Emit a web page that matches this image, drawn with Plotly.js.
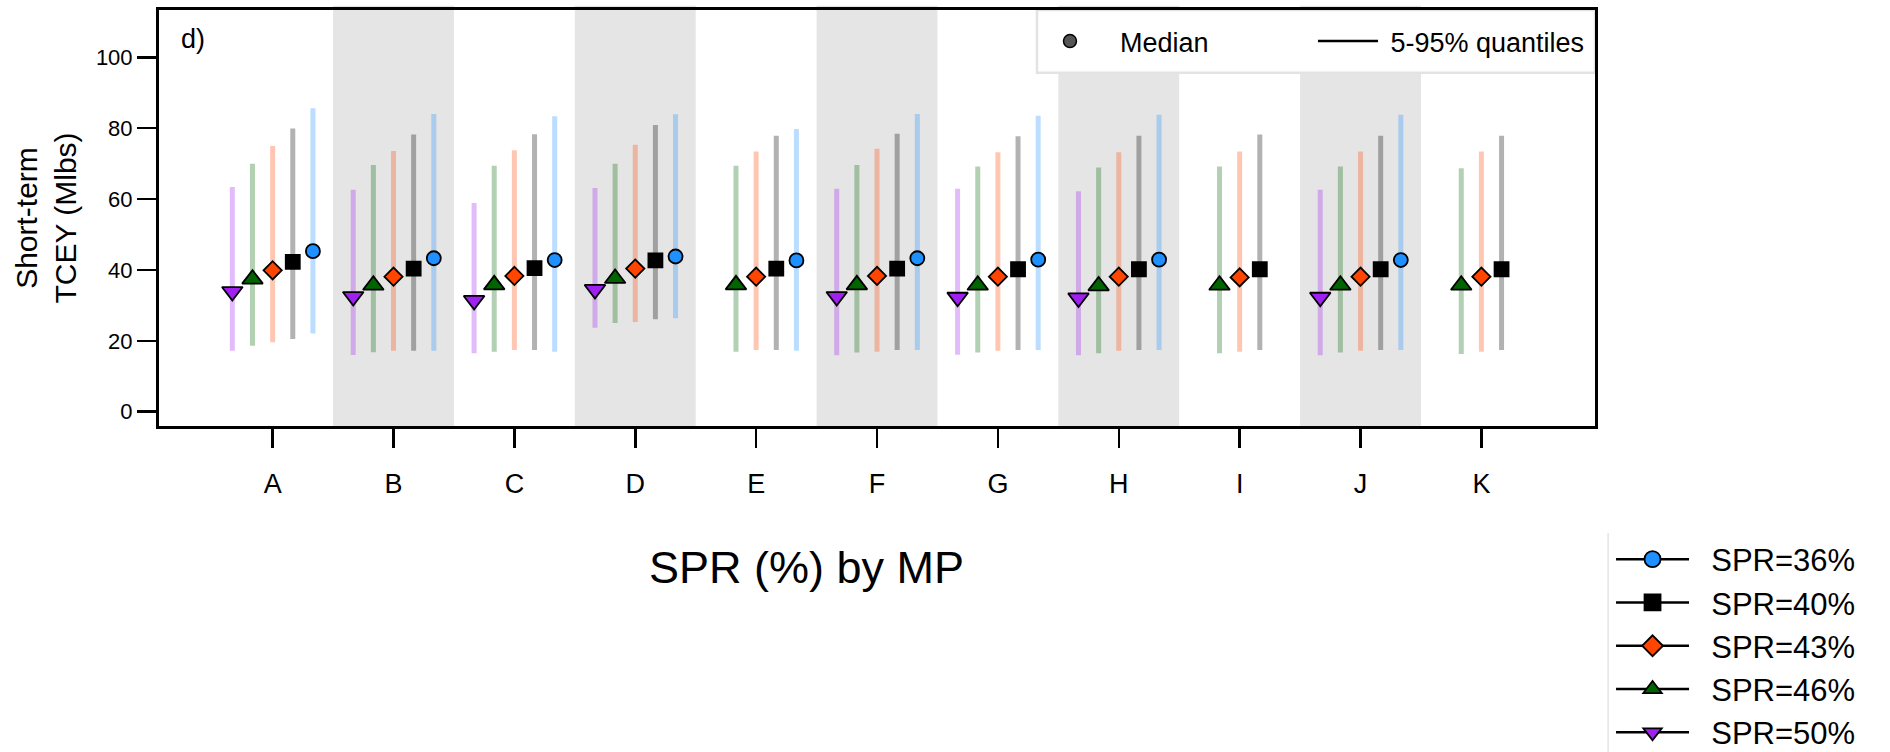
<!DOCTYPE html>
<html>
<head>
<meta charset="utf-8">
<script src="https://cdn.plot.ly/plotly-3.0.1.min.js"></script>
<style>html,body{margin:0;padding:0;background:#fff;}#chart{width:1890px;height:752px;}</style>
</head>
<body>
<div id="chart"></div>
<script>
// ---- data ----
const categories = ['A','B','C','D','E','F','G','H','I','J','K'];
const seriesNames = ['SPR=36%','SPR=40%','SPR=43%','SPR=46%','SPR=50%'];

const med36 = [45.3, 43.3, 42.8, 43.8, 42.7, 43.3, 42.9, 42.9, null, 42.8, null];
const lo36  = [22.1, 17.2, 16.9, 26.4, 17.2, 17.4, 17.4, 17.4, null, 17.4, null];
const hi36  = [85.6, 84.0, 83.4, 83.9, 79.8, 84.0, 83.5, 83.8, null, 83.8, null];

const med40 = [42.3, 40.4, 40.5, 42.7, 40.4, 40.4, 40.2, 40.2, 40.2, 40.2, 40.2];
const lo40  = [20.5, 17.2, 17.4, 26.1, 17.4, 17.4, 17.4, 17.4, 17.4, 17.4, 17.4];
const hi40  = [79.9, 78.2, 78.3, 80.9, 77.9, 78.4, 77.7, 77.9, 78.2, 77.9, 77.9];

const med43 = [39.9, 38.1, 38.3, 40.4, 38.1, 38.3, 38.1, 38.1, 37.9, 38.1, 38.1];
const lo43  = [19.6, 17.2, 17.4, 25.3, 17.4, 16.9, 17.2, 17.2, 16.9, 17.2, 16.9];
const hi43  = [75.0, 73.6, 73.8, 75.3, 73.4, 74.2, 73.2, 73.2, 73.4, 73.4, 73.4];

const med46 = [37.4, 35.7, 35.8, 37.6, 35.8, 35.8, 35.7, 35.5, 35.7, 35.7, 35.7];
const lo46  = [18.6, 16.8, 16.9, 25.0, 16.9, 16.7, 16.7, 16.5, 16.5, 16.7, 16.3];
const hi46  = [70.0, 69.6, 69.4, 70.0, 69.4, 69.6, 69.2, 68.9, 69.2, 69.2, 68.7];

const med50 = [33.9, 32.5, 31.4, 34.5, null, 32.5, 32.3, 32.1, null, 32.3, null];
const lo50  = [17.2, 16.0, 16.5, 23.7, null, 15.9, 16.1, 15.9, null, 15.9, null];
const hi50  = [63.4, 62.6, 58.9, 63.1, null, 62.9, 62.9, 62.2, null, 62.6, null];

const yTicks = [0, 20, 40, 60, 80, 100];

// ---- styles ----
const FONT = 'Liberation Sans, Arial, Helvetica, sans-serif';
const NB = '\u00A0';
const styles = [
  {sym:'circle',        size:14, color:'#1E90FF', bar:'rgba(30,144,255,0.30)', off: 2},
  {sym:'square',        size:14, color:'#000000', bar:'rgba(0,0,0,0.30)',      off: 1},
  {sym:'diamond',       size:14, color:'#FF4500', bar:'rgba(255,69,0,0.30)',   off: 0},
  {sym:'triangle-up',   size:18, color:'#006400', bar:'rgba(0,100,0,0.30)',    off:-1},
  {sym:'triangle-down', size:18, color:'#A020F0', bar:'rgba(160,32,240,0.30)', off:-2}
];
const meds = [med36, med40, med43, med46, med50];
const los  = [lo36, lo40, lo43, lo46, lo50];
const his  = [hi36, hi40, hi43, hi46, hi50];
const step = 1/6;

const traces = [];
for (let s = 4; s >= 0; s--) {
  const st = styles[s];
  const x = categories.map((c, i) => i + 1 + st.off * step);
  const plus  = meds[s].map((m, i) => m == null ? null : his[s][i] - m);
  const minus = meds[s].map((m, i) => m == null ? null : m - los[s][i]);
  traces.push({
    type:'scatter', mode:'markers', name: seriesNames[s], showlegend:false,
    x: x, y: meds[s],
    marker:{symbol: st.sym, size: st.size, color: st.color, line:{color:'#000', width:1.8}},
    error_y:{type:'data', symmetric:false, array: plus, arrayminus: minus,
             color: st.bar, thickness: 5, width: 0},
    hoverinfo:'skip'
  });
}
// legend entries (bottom-right)
for (let s = 0; s < 5; s++) {
  const st = styles[s];
  traces.push({
    type:'scatter', mode:'lines+markers', name: NB + NB + seriesNames[s], legend:'legend',
    x:[null], y:[null],
    line:{color:'#000', width:2.5},
    marker:{symbol: st.sym, size: st.size + 2, color: st.color, line:{color:'#000', width:1.8}}
  });
}
// legend entries (top box)
traces.push({type:'scatter', mode:'markers', name: NB + NB + 'Median', legend:'legend2', x:[null], y:[null],
  marker:{symbol:'circle', size:13, color:'#555555', line:{color:'#000', width:1.5}}});
traces.push({type:'scatter', mode:'lines', name: NB + '5-95% quantiles', legend:'legend2', x:[null], y:[null],
  line:{color:'#000', width:2.5}});

// shaded bands behind alternate categories
const shapes = categories.map((c, i) => i).filter(i => i % 2 === 1).map(i => ({
  type:'rect', layer:'below', xref:'x', yref:'paper',
  x0: i + 0.5, x1: i + 1.5, y0: 0, y1: 1.01,
  fillcolor:'#e5e5e5', line:{width:0}
}));
// white box behind the top legend
shapes.push({type:'rect', layer:'below', xref:'paper', yref:'paper', x0:0.6114, x1:1.0, y0:0.8493, y1:1.0,
  fillcolor:'#ffffff', line:{color:'#e3e3e3', width:2.5}});
// left rule of the SPR legend
shapes.push({type:'line', xref:'paper', yref:'paper', x0:1.0091, x1:1.0091, y0:-0.2572, y1:-0.79,
  line:{color:'#e3e3e3', width:1.5}});

const layout = {
  width:1890, height:752,
  margin:{l:159, r:16, t:10, b:326},
  paper_bgcolor:'#fff', plot_bgcolor:'rgba(0,0,0,0)',
  font:{family:FONT, color:'#000'},
  xaxis:{
    range:[0.06, 11.94], tickmode:'array', tickvals: categories.map((c,i)=>i+1), ticktext: categories,
    ticks:'outside', ticklen:19, tickwidth:2.5, tickcolor:'#000',
    showline:true, linewidth:3, linecolor:'#000', mirror:true,
    showgrid:false, zeroline:false, tickfont:{size:27, family:FONT}, ticklabelstandoff:13
  },
  yaxis:{
    range:[-4.03, 113.35], tickmode:'array', tickvals: yTicks,
    ticks:'outside', ticklen:19, tickwidth:2.5, tickcolor:'#000',
    showline:true, linewidth:3, linecolor:'#000', mirror:true,
    showgrid:false, zeroline:false, tickfont:{size:22, family:FONT},
    title:{text:'Short-term<br>TCEY (Mlbs)', font:{size:30, family:FONT}, standoff:11}
  },
  legend:{
    xref:'container', yref:'container',
    x:0.8524, xanchor:'left', y:0.2919, yanchor:'top', orientation:'v',
    font:{size:31, family:FONT}, bgcolor:'rgba(0,0,0,0)', borderwidth:0,
    itemwidth:73, tracegroupgap:0
  },
  legend2:{
    x:0.610, xanchor:'left', y:0.983, yanchor:'top', orientation:'h',
    font:{size:27, family:FONT}, bgcolor:'rgba(0,0,0,0)', borderwidth:0,
    itemwidth:60, entrywidth:203, entrywidthmode:'pixels'
  },
  shapes: shapes,
  annotations:[
    {text:'d)', xref:'paper', yref:'paper', x:0.0139, y:0.97, xanchor:'left', yanchor:'top',
     showarrow:false, font:{size:27, family:FONT}},
    {text:'SPR (%) by MP', xref:'paper', yref:'paper', x:0.4506, y:-0.339, xanchor:'center', yanchor:'middle',
     showarrow:false, font:{size:45, family:FONT}}
  ]
};

Plotly.newPlot('chart', traces, layout, {displayModeBar:false, staticPlot:true});
</script>
</body>
</html>
